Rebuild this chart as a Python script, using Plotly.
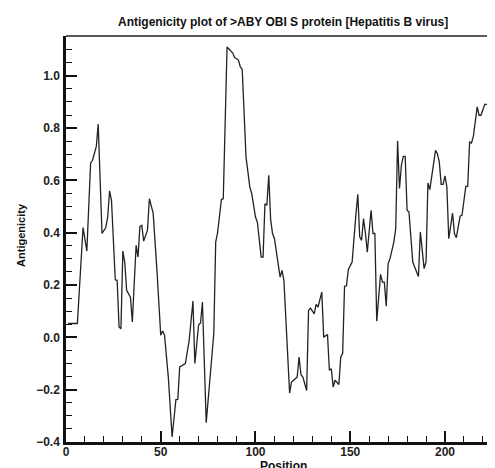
import plotly.graph_objects as go

position = [1, 6, 9, 11, 13, 14, 16, 17, 19, 21, 22, 23, 24, 26, 27, 28, 29, 30, 31, 32,
            34, 35, 37, 38, 39, 40, 41, 43, 44, 45, 46, 48, 50, 51, 52, 54, 56, 58, 59, 60,
            62, 63, 65, 66, 67, 68, 70, 71, 72, 74, 78, 79, 80, 82, 83, 85, 86, 87, 88, 89,
            91, 92, 93, 95, 97, 98, 100, 101, 103, 104, 105, 106, 107, 108, 109, 110, 113, 114, 115, 118,
            119, 121, 122, 123, 124, 125, 127, 128, 129, 131, 132, 133, 135, 136, 138, 139, 140, 141, 142, 144,
            145, 146, 147, 148, 149, 151, 152, 153, 154, 155, 156, 157, 158, 159, 161, 162, 163, 164, 166, 167,
            168, 169, 170, 171, 173, 174, 175, 176, 177, 178, 179, 180, 181, 183, 184, 186, 187, 188, 189, 190,
            191, 192, 193, 195, 196, 197, 198, 199, 200, 201, 202, 204, 205, 206, 207, 208, 209, 211, 212, 213,
            214, 215, 217, 218, 219, 220, 221, 226]
antigenicity = [0.053, 0.053, 0.42, 0.33, 0.667, 0.677, 0.73, 0.815, 0.397, 0.42, 0.46, 0.56, 0.524, 0.22, 0.218, 0.04, 0.033, 0.33, 0.288, 0.18,
                0.154, 0.059, 0.352, 0.307, 0.424, 0.428, 0.368, 0.41, 0.53, 0.50, 0.475, 0.256, 0.008, 0.024, 0.008, -0.152, -0.381, -0.238, -0.237, -0.113,
                -0.104, -0.1, -0.011, 0.065, 0.139, -0.1, 0.048, 0.055, 0.135, -0.326, 0.015, 0.364, 0.40, 0.527, 0.53, 1.11, 1.102, 1.097, 1.087, 1.07,
                1.06, 1.034, 1.024, 0.69, 0.575, 0.55, 0.46, 0.44, 0.307, 0.307, 0.511, 0.505, 0.62, 0.45, 0.397, 0.377, 0.23, 0.256, 0.218, -0.213,
                -0.171, -0.158, -0.152, -0.075, -0.143, -0.152, -0.203, 0.103, 0.112, 0.09, 0.126, 0.116, 0.173, 0.001, 0.011, -0.126, -0.12, -0.19, -0.164, -0.18,
                -0.075, -0.062, 0.195, 0.197, 0.26, 0.288, 0.40, 0.47, 0.547, 0.384, 0.371, 0.454, 0.40, 0.326, 0.486, 0.397, 0.397, 0.062, 0.241, 0.211,
                0.211, 0.119, 0.282, 0.301, 0.364, 0.415, 0.751, 0.569, 0.658, 0.692, 0.692, 0.486, 0.479, 0.288, 0.269, 0.233, 0.403, 0.32, 0.263, 0.288,
                0.59, 0.565, 0.613, 0.715, 0.702, 0.67, 0.585, 0.585, 0.617, 0.575, 0.377, 0.475, 0.397, 0.381, 0.422, 0.463, 0.467, 0.577, 0.577, 0.747,
                0.743, 0.769, 0.881, 0.849, 0.849, 0.875, 0.891, 0.891]

title_text = "Antigenicity plot of >ABY OBI S protein [Hepatitis B virus]"
x_label = "Position"
y_label = "Antigenicity"

FONT = "Liberation Sans, Arial, sans-serif"

fig = go.Figure()
fig.add_trace(go.Scatter(x=position, y=antigenicity, mode="lines",
                         line=dict(color="#222222", width=1.3), hoverinfo="skip"))

# page body has an 8px default margin, so the figure is shrunk/offset to compensate
fig.update_layout(
    width=487, height=460,
    margin=dict(l=58, r=0, t=28, b=26, autoexpand=False),
    paper_bgcolor="white", plot_bgcolor="white",
    showlegend=False,
    font=dict(family=FONT, size=12, color="#222222"),
    xaxis=dict(range=[0, 226.4], showgrid=False, zeroline=False, automargin=False,
               showline=True, linecolor="#111111", linewidth=2.5,
               ticks="inside", ticklen=11, tickwidth=1.5, tickcolor="#111111",
               tick0=0, dtick=50, ticklabelstandoff=-3,
               minor=dict(ticks="inside", ticklen=6, tickwidth=1.2, tickcolor="#111111", dtick=10),
               tickfont=dict(family=FONT, size=12, color="#222222", weight="bold")),
    yaxis=dict(range=[-0.4, 1.152], showgrid=False, zeroline=False, automargin=False,
               showline=True, linecolor="#111111", linewidth=2.5,
               ticks="inside", ticklen=11, tickwidth=1.5, tickcolor="#111111",
               tick0=0, dtick=0.2, tickformat=".1f",
               minor=dict(ticks="inside", ticklen=6, tickwidth=1.2, tickcolor="#111111", dtick=0.05),
               ticklabelstandoff=1,
               tickfont=dict(family=FONT, size=12, color="#222222", weight="bold")),
)

fig.add_shape(type="line", xref="paper", yref="paper", x0=0, x1=1, y0=1, y1=1,
              line=dict(color="#222222", width=1.5))

fig.add_annotation(text=title_text, xref="paper", yref="paper", x=0.506, y=1.0345,
                   showarrow=False, xanchor="center", yanchor="middle",
                   font=dict(family=FONT, size=12, color="#111111", weight="bold"))
fig.add_annotation(text=x_label, xref="paper", yref="paper", x=0.506, y=-0.058,
                   showarrow=False, xanchor="center", yanchor="middle",
                   font=dict(family=FONT, size=12, color="#111111", weight="bold"))
fig.add_annotation(text=y_label, xref="paper", yref="paper", x=-0.105, y=0.51,
                   showarrow=False, xanchor="center", yanchor="middle", textangle=-90,
                   font=dict(family=FONT, size=11, color="#111111", weight="bold"))

fig.write_html("out.html")
